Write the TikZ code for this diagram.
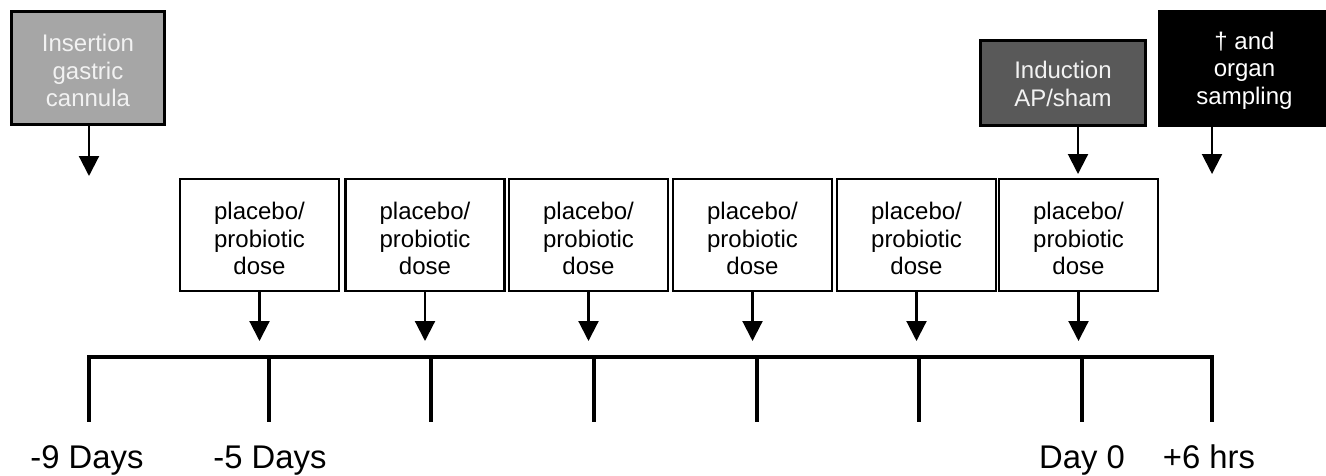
\documentclass[tikz,border=0pt]{standalone}
\usepackage{fontspec}
\setmainfont{Liberation Sans}
\usetikzlibrary{arrows.meta}
\definecolor{cannulagray}{HTML}{A6A6A6}
\definecolor{inductgray}{HTML}{595959}
\definecolor{lighttext}{HTML}{F2F2F2}
\begin{document}
\begin{tikzpicture}[x=0.75pt,y=-0.75pt,
  boxfont/.style={font=\fontsize{18pt}{20.6pt}\selectfont, align=center},
  eventbox/.style={boxfont, draw=black, line width=2.2pt, inner sep=0pt, anchor=north west},
  dosebox/.style={boxfont, draw=black, line width=1.8pt, fill=white, inner sep=0pt,
    minimum width=159*0.75pt, minimum height=112*0.75pt},
  downarrow/.style={line width=1.6pt, -{Triangle[width=15pt,length=15pt]}},
  axis/.style={line width=3pt},
  tick/.style={line width=2.6pt},
  daylabel/.style={font=\fontsize{24.6pt}{29pt}\selectfont, anchor=base, inner sep=0pt}
]
\useasboundingbox (0,0) rectangle (1326,475);

% event boxes along the top
\node[eventbox, fill=cannulagray, text=lighttext, minimum width=153*0.75pt, minimum height=113*0.75pt]
  (cannula) at (10,10) {};
\node[boxfont, text=lighttext] at ([yshift=-2.5*0.75pt]cannula.center) {Insertion\\gastric\\cannula};
\node[eventbox, fill=inductgray, text=lighttext, minimum width=165*0.75pt, minimum height=85*0.75pt]
  (induction) at (979,39) {};
\node[boxfont, text=lighttext] at ([yshift=-1*0.75pt]induction.center) {Induction\\AP/sham};
\node[eventbox, fill=black, text=white, minimum width=170*0.75pt, minimum height=114*0.75pt]
  (sampling) at (1158,10) {};
\node[boxfont, text=white] at ([yshift=-2*0.75pt]sampling.center) {\char"2020{} and\\organ\\sampling};

% daily dose boxes
\foreach \i/\cx in {1/259.5,2/425,3/588.5,4/752.5,5/916.5,6/1078.5}{
  \node[dosebox] (dose\i) at (\cx,235) {};
  \node[boxfont] at ([yshift=-3.5*0.75pt]dose\i.center) {placebo/\\probiotic\\dose};
  \coordinate (dosetip\i) at (\cx,341);
  \draw[downarrow] (dose\i.south) -- (dosetip\i);
}

% arrows from the event boxes
\coordinate (cannulatip) at (89,176);
\coordinate (inductiontip) at (1078,174);
\coordinate (samplingtip) at (1212,174);
\draw[downarrow] (cannula.south -| cannulatip) -- (cannulatip);
\draw[downarrow] (induction.south -| inductiontip) -- (inductiontip);
\draw[downarrow] (sampling.south -| samplingtip) -- (samplingtip);

% time axis with its ticks
\foreach \k/\tx in {1/89,2/269,3/431,4/594,5/757,6/919,7/1082,8/1212}{
  \coordinate (t\k) at (\tx,357);
  \coordinate (b\k) at (\tx,422);
}
\draw[axis] ([xshift=-1.3pt]t1) -- ([xshift=1.3pt]t8);
\foreach \k in {1,...,8}{
  \draw[tick] (t\k) -- (b\k);
}

% axis labels
\node[daylabel] (lm9) at (87,468) {-9 Days};
\node[daylabel] (lm5) at (270,468) {-5 Days};
\node[daylabel] (l0) at (1082,468) {Day 0};
\node[daylabel] (lp6) at (1209,468) {+6 hrs};
\end{tikzpicture}
\end{document}
